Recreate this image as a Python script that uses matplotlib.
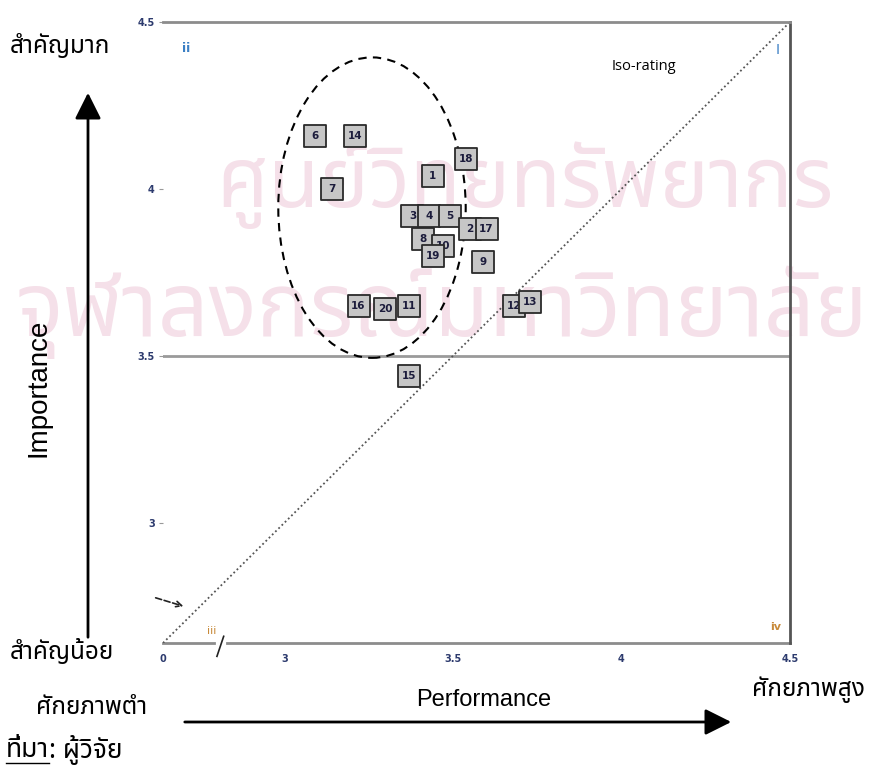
import matplotlib
matplotlib.use("Agg")
import matplotlib.pyplot as plt
from matplotlib import font_manager
from matplotlib.ft2font import FT2Font
from matplotlib.patches import Ellipse, FancyArrowPatch

# ---- data -------------------------------------------------------------
item_ids = ["3", "4", "5", "6", "14", "18", "1", "7", "2", "17",
            "8", "10", "19", "9", "16", "20", "11", "12", "13", "15"]
performance = [3.38, 3.43, 3.49, 3.09, 3.21, 3.54, 3.44, 3.14, 3.55, 3.60,
               3.41, 3.47, 3.44, 3.59, 3.22, 3.30, 3.37, 3.68, 3.73, 3.37]
importance = [3.92, 3.92, 3.92, 4.16, 4.16, 4.09, 4.04, 4.00, 3.88, 3.88,
              3.85, 3.83, 3.80, 3.78, 3.65, 3.64, 3.65, 3.65, 3.66, 3.44]

x_ticks = [3.0, 3.5, 4.0, 4.5]
y_ticks = [3.0, 3.5, 4.0, 4.5]
tick_labels = ["3", "3.5", "4", "4.5"]
axis_origin = 2.64          # shown as "0" behind the axis break
importance_cut = 3.5
cluster_center = (3.26, 3.944)
cluster_size = (0.556, 0.90)


def thai_family():
    preferred = ["Tahoma", "Noto Sans Thai", "Noto Sans Thai UI", "Loma",
                 "Garuda", "Sarabun", "Norasi", "Kinnari", "Umpush", "Waree"]
    found = {}
    for f in font_manager.fontManager.ttflist:
        try:
            if 0x0E01 in FT2Font(f.fname).get_charmap():
                found.setdefault(f.name, f.fname)
        except Exception:
            pass
    for p in preferred:
        if p in found:
            return p
    return next(iter(found), "DejaVu Sans")


THAI = [thai_family(), "DejaVu Sans"]
LATIN = ["Liberation Sans", "DejaVu Sans"]

W, H = 873, 779
fig = plt.figure(figsize=(W / 100, H / 100), dpi=100)
fig.patch.set_facecolor("white")


def px(x, y):
    return x / W, 1 - y / H


# faint background watermark
wm = "#f5e0e9"
fig.text(*px(525, 185), "ศูนย์วิทยทรัพยากร", family=THAI, fontsize=60,
         color=wm, ha="center", va="center", zorder=-2)
fig.text(*px(442, 312), "จุฬาลงกรณ์มหาวิทยาลัย", family=THAI, fontsize=64,
         color=wm, ha="center", va="center", zorder=-2)

ax = fig.add_axes([163 / W, 1 - 643 / H, (790 - 163) / W, (643 - 22) / H])
ax.set_facecolor("none")
ax.set_xlim(axis_origin, 4.5)
ax.set_ylim(axis_origin, 4.5)

ax.spines["left"].set_visible(False)
ax.spines["top"].set_color("#8c8c8c")
ax.spines["top"].set_linewidth(2)
ax.spines["right"].set_color("#555555")
ax.spines["right"].set_linewidth(2)
ax.spines["bottom"].set_visible(False)

# bottom axis with a break near the origin
ax.plot([axis_origin, 2.79], [axis_origin, axis_origin], color="#8c8c8c",
        lw=2, clip_on=False, zorder=2)
ax.plot([2.83, 4.5], [axis_origin, axis_origin], color="#8c8c8c",
        lw=2, clip_on=False, zorder=2)
ax.plot([2.8, 2.82], [axis_origin - 0.04, axis_origin + 0.02], color="#222",
        lw=1.2, clip_on=False)

ax.set_xticks([axis_origin] + x_ticks)
ax.set_xticklabels(["0"] + tick_labels)
ax.set_yticks(y_ticks)
ax.set_yticklabels(tick_labels)
ax.tick_params(axis="x", length=0, pad=8, labelsize=7, labelcolor="#2d3b6e")
ax.tick_params(axis="y", length=3, width=0.8, color="#999999", pad=3,
               labelsize=7, labelcolor="#2d3b6e")
for t in ax.get_xticklabels() + ax.get_yticklabels():
    t.set_fontweight("bold")

# importance cut line
ax.axhline(importance_cut, color="#9a9a9a", lw=2, zorder=1)

# iso-rating diagonal
ax.plot([axis_origin, 4.5], [axis_origin, 4.5], color="#555555", lw=1.3,
        ls=(0, (1, 1.5)), zorder=2)

# cluster outline
ax.add_patch(Ellipse(cluster_center, *cluster_size, fill=False, ec="black",
                     lw=1.5, ls=(0, (4, 3)), zorder=3))

# item boxes
for i, (lab, xv, yv) in enumerate(zip(item_ids, performance, importance)):
    z = 4 + i * 0.01
    ax.scatter([xv], [yv], marker="s", s=270, facecolor="#c6c6c6",
               edgecolor="#2a2a2a", linewidth=1.3, zorder=z)
    ax.text(xv, yv, lab, ha="center", va="center", fontsize=7.5,
            fontweight="bold", color="#1c1c3c", zorder=z + 0.005)

# quadrant labels
fig.text(*px(186, 48), "ii", color="#3a7fc4",
         fontsize=9, fontweight="bold", ha="center", va="center")
fig.text(*px(778, 50), "I", color="#3a7fc4",
         fontsize=10, ha="center", va="center")
fig.text(*px(212, 631), "iii", color="#c88a3a",
         fontsize=8, ha="center", va="center")
fig.text(*px(776, 627), "iv", color="#c88a3a",
         fontsize=8, fontweight="bold", ha="center", va="center")
fig.text(*px(644, 67), "Iso-rating", family=["Open Sans", "DejaVu Sans"],
         fontsize=10.5, ha="center", va="center")

# small dashed pointer near the origin
ax.annotate("", xy=px(186, 607), xytext=px(153, 597),
            xycoords="figure fraction", textcoords="figure fraction",
            arrowprops=dict(arrowstyle="->", lw=1.2, ls="--", color="#222"))

# axis direction arrows
fig.add_artist(FancyArrowPatch(
    px(88, 640), px(88, 90), transform=fig.transFigure,
    arrowstyle="-|>,head_length=0.8,head_width=0.4", mutation_scale=20,
    lw=2, color="black"))
fig.add_artist(FancyArrowPatch(
    px(182, 722), px(734, 722), transform=fig.transFigure,
    arrowstyle="-|>,head_length=0.8,head_width=0.4", mutation_scale=20,
    lw=2, color="black"))

fig.text(*px(38, 388), "Importance", family=LATIN, fontsize=20,
         rotation=90, ha="center", va="center")
fig.text(*px(484, 700), "Performance", family=LATIN, fontsize=17,
         ha="center", va="center")

TS = 17.5
fig.text(*px(10, 47), "สำคัญมาก", family=THAI, fontsize=TS,
         ha="left", va="center")
fig.text(*px(10, 652), "สำคัญน้อย", family=THAI, fontsize=TS,
         ha="left", va="center")
fig.text(*px(36, 708), "ศักยภาพตำ", family=THAI, fontsize=TS,
         ha="left", va="center")
fig.text(*px(752, 690), "ศักยภาพสูง", family=THAI, fontsize=TS,
         ha="left", va="center")

src = fig.text(*px(6, 750), "ที่มา", family=THAI, fontsize=19,
               ha="left", va="center")
fig.canvas.draw()
bb = src.get_window_extent()
fig.text(bb.x1 / W, 1 - 750 / H, ": ผู้วิจัย", family=THAI, fontsize=19,
         ha="left", va="center")
fig.add_artist(plt.Line2D([bb.x0 / W, bb.x1 / W],
                          [(bb.y0 + 1) / H, (bb.y0 + 1) / H],
                          transform=fig.transFigure, color="black", lw=1))

fig.savefig("out.png", dpi=100)
